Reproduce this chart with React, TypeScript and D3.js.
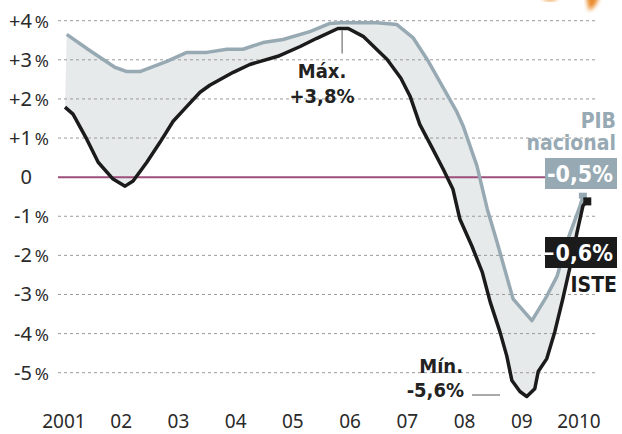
import { useRef, useEffect } from 'react';
import * as d3 from 'd3';

// PIB nacional (grey) — year, % interanual
const pibYears = [
  2001.03, 2001.4, 2001.87, 2002.08, 2002.31, 2002.78, 2003.13, 2003.48, 2003.83,
  2004.11, 2004.46, 2004.81, 2005.28, 2005.63, 2005.81, 2006.45, 2006.8, 2007.08,
  2007.33, 2007.85, 2007.96, 2008.2, 2008.38, 2008.55, 2008.83, 2009.16, 2009.42,
  2009.6, 2009.79, 2010.0, 2010.05,
];
const pibValues = [
  3.65, 3.27, 2.81, 2.7, 2.7, 2.96, 3.19, 3.19, 3.27,
  3.27, 3.44, 3.52, 3.72, 3.93, 3.95, 3.95, 3.9, 3.57,
  3.01, 1.66, 1.3, 0.28, -0.82, -1.66, -3.11, -3.67, -3.04,
  -2.53, -1.58, -0.74, -0.5,
];

// ISTE (black)
const isteYears = [
  2001.0, 2001.14, 2001.38, 2001.58, 2001.84, 2002.05, 2002.19, 2002.43, 2002.66,
  2002.89, 2003.13, 2003.36, 2003.53, 2003.94, 2004.23, 2004.72, 2005.11, 2005.4,
  2005.77, 2005.95, 2006.21, 2006.63, 2006.87, 2007.03, 2007.2, 2007.43, 2007.61,
  2007.78, 2007.9, 2008.11, 2008.29, 2008.43, 2008.6, 2008.72, 2008.81, 2008.95,
  2009.07, 2009.21, 2009.27, 2009.42, 2009.56, 2009.7, 2009.83, 2009.95, 2010.05,
  2010.11,
];
const isteValues = [
  1.79, 1.61, 0.97, 0.38, -0.05, -0.23, -0.1, 0.38, 0.89,
  1.43, 1.81, 2.17, 2.35, 2.68, 2.88, 3.09, 3.34, 3.55,
  3.8, 3.8, 3.6, 3.01, 2.53, 2.07, 1.35, 0.71, 0.2,
  -0.31, -1.07, -1.76, -2.42, -3.19, -3.95, -4.57, -5.2, -5.48,
  -5.61, -5.41, -4.97, -4.64, -3.95, -3.11, -2.27, -1.4, -0.74,
  -0.62,
];

const yTicks = [4, 3, 2, 1, 0, -1, -2, -3, -4, -5];
const yearTicks = [2001, 2002, 2003, 2004, 2005, 2006, 2007, 2008, 2009, 2010];
const yearLabels = ['2001', '02', '03', '04', '05', '06', '07', '08', '09', '2010'];

const maxLabel = ['Máx.', '+3,8%'];
const minLabel = ['Mín.', '-5,6%'];

export default function App() {
  const svgRef = useRef<SVGSVGElement>(null);
  const width = 622;
  const height = 434;

  useEffect(() => {
    if (!svgRef.current) return;
    const svg = d3.select(svgRef.current);
    svg.selectAll('*').remove();

    const grey = '#97a9b3';
    const ink = '#1b1b1b';
    const bold = "'DejaVu Sans Condensed', 'DejaVu Sans', sans-serif";
    const regular = "'Noto Sans', 'DejaVu Sans', sans-serif";

    const x = d3.scaleLinear().domain([2001, 2010]).range([65, 580]);
    const y = d3.scaleLinear().domain([-5, 4]).range([372.7, 20.7]);

    const pib = pibYears.map((t, i) => [t, pibValues[i]] as [number, number]);
    const iste = isteYears.map((t, i) => [t, isteValues[i]] as [number, number]);

    const line = d3.line<[number, number]>()
      .x(d => x(d[0]))
      .y(d => y(d[1]));

    // orange smudge in the corner
    const defs = svg.append('defs');
    defs.append('filter').attr('id', 'blur')
      .append('feGaussianBlur').attr('stdDeviation', 2);
    svg.append('path')
      .attr('d', 'M586,-4 L600,-4 L595,6 L589,11 Z')
      .attr('fill', '#e98a2c')
      .attr('filter', 'url(#blur)');
    svg.append('ellipse')
      .attr('cx', 550).attr('cy', -1).attr('rx', 7).attr('ry', 2.5)
      .attr('fill', '#f2a65a')
      .attr('filter', 'url(#blur)');

    // shaded gap between the two series
    svg.append('path')
      .attr('d', line([...pib, ...iste.slice().reverse()]) + 'Z')
      .attr('fill', '#e7eaea');

    // dotted grid
    const grid = svg.append('g');
    yTicks.filter(v => v !== 0).forEach(v => {
      grid.append('line')
        .attr('x1', 58).attr('x2', 596)
        .attr('y1', y(v)).attr('y2', y(v))
        .attr('stroke', '#9a9a9a')
        .attr('stroke-width', 1)
        .attr('stroke-dasharray', '3,3');
    });

    // zero line
    svg.append('line')
      .attr('x1', 58).attr('x2', 545)
      .attr('y1', y(0)).attr('y2', y(0))
      .attr('stroke', '#9c4f7c')
      .attr('stroke-width', 2);

    // y labels
    const yl = svg.append('g').attr('fill', '#2a2a2a').attr('font-family', regular);
    yTicks.forEach(v => {
      const num = v > 0 ? `+${v}` : `${v}`;
      yl.append('text')
        .attr('x', 32).attr('y', y(v) + 7)
        .attr('text-anchor', 'end')
        .attr('font-size', 20)
        .text(num);
      if (v !== 0) {
        yl.append('text')
          .attr('x', 49).attr('y', y(v) + 7)
          .attr('text-anchor', 'end')
          .attr('font-size', 17)
          .text('%');
      }
    });

    // x labels
    const xl = svg.append('g').attr('fill', '#2a2a2a').attr('font-family', regular);
    yearTicks.forEach((t, i) => {
      xl.append('text')
        .attr('x', x(t) - 1).attr('y', 428)
        .attr('text-anchor', 'middle')
        .attr('font-size', 19)
        .text(yearLabels[i]);
    });

    // series
    svg.append('path')
      .attr('d', line(pib))
      .attr('fill', 'none')
      .attr('stroke', grey)
      .attr('stroke-width', 3.5)
      .attr('stroke-linejoin', 'round');

    svg.append('path')
      .attr('d', line(iste))
      .attr('fill', 'none')
      .attr('stroke', ink)
      .attr('stroke-width', 3.5)
      .attr('stroke-linejoin', 'round');

    const pEnd = pib[pib.length - 1];
    const iEnd = iste[iste.length - 1];
    svg.append('rect')
      .attr('x', x(pEnd[0]) - 4).attr('y', y(pEnd[1]) - 4)
      .attr('width', 8).attr('height', 6)
      .attr('fill', grey);
    svg.append('rect')
      .attr('x', x(iEnd[0]) - 3).attr('y', y(iEnd[1]) - 4)
      .attr('width', 8).attr('height', 8)
      .attr('fill', ink);

    // max annotation
    const maxT = 2005.86;
    svg.append('line')
      .attr('x1', x(maxT) - 1).attr('x2', x(maxT) - 1)
      .attr('y1', y(3.8) + 2).attr('y2', y(3.8) + 25)
      .attr('stroke', '#555').attr('stroke-width', 1);
    const maxG = svg.append('g')
      .attr('font-family', bold).attr('font-weight', 'bold')
      .attr('fill', '#222').attr('text-anchor', 'middle');
    maxG.append('text').attr('x', 322).attr('y', 78).attr('font-size', 20).text(maxLabel[0]);
    maxG.append('text').attr('x', 322).attr('y', 103).attr('font-size', 20).text(maxLabel[1]);

    // min annotation
    svg.append('line')
      .attr('x1', 472).attr('x2', 500)
      .attr('y1', 395).attr('y2', 395)
      .attr('stroke', '#555').attr('stroke-width', 1);
    const minG = svg.append('g')
      .attr('font-family', bold).attr('font-weight', 'bold')
      .attr('fill', '#222').attr('text-anchor', 'end');
    minG.append('text').attr('x', 463).attr('y', 373).attr('font-size', 20).text(minLabel[0]);
    minG.append('text').attr('x', 464).attr('y', 397).attr('font-size', 20).text(minLabel[1]);

    // PIB label
    const pibG = svg.append('g')
      .attr('font-family', bold).attr('font-weight', 'bold')
      .attr('text-anchor', 'end');
    pibG.append('text').attr('x', 616).attr('y', 128).attr('font-size', 21).attr('fill', grey).text('PIB');
    pibG.append('text').attr('x', 616).attr('y', 150).attr('font-size', 21).attr('fill', grey).text('nacional');
    pibG.append('rect').attr('x', 545).attr('y', 158).attr('width', 72).attr('height', 31).attr('fill', grey);
    pibG.append('text').attr('x', 613).attr('y', 182).attr('font-size', 23).attr('fill', '#fff')
      .text(`${pEnd[1]}`.replace('.', ',') + '%');

    // ISTE label
    const isteG = svg.append('g')
      .attr('font-family', bold).attr('font-weight', 'bold')
      .attr('text-anchor', 'end');
    isteG.append('rect').attr('x', 545).attr('y', 237).attr('width', 72).attr('height', 31).attr('fill', ink);
    isteG.append('text').attr('x', 613).attr('y', 261).attr('font-size', 23).attr('fill', '#fff')
      .text(`${d3.format('.1f')(iEnd[1])}`.replace('.', ',') + '%');
    isteG.append('text').attr('x', 617).attr('y', 292).attr('font-size', 21).attr('fill', ink).text('ISTE');
  }, []);

  return (
    <svg
      ref={svgRef}
      width={width}
      height={height}
      style={{ position: 'absolute', left: 0, top: 0, background: '#fff' }}
    />
  );
}
